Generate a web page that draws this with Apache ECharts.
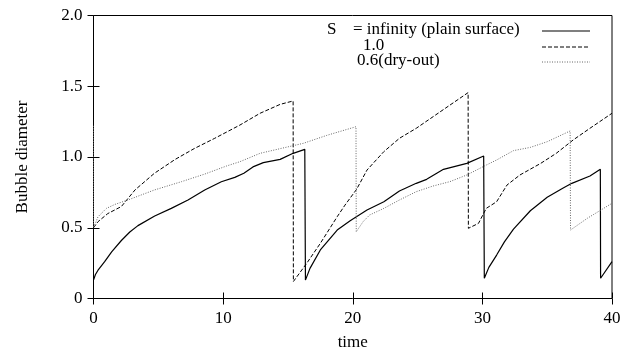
<!DOCTYPE html>
<html>
<head>
<meta charset="utf-8">
<script src="https://cdn.jsdelivr.net/npm/echarts@6/dist/echarts.min.js"></script>
<style>
  html, body { margin: 0; padding: 0; background: #fff; }
  #chart { width: 635px; height: 353px; }
</style>
</head>
<body>
<div id="chart"></div>
<script>
// [time, diameter]
const plainSurface = [
  [0, 0.13], [0.15, 0.17], [0.35, 0.2], [0.86, 0.26], [1.4, 0.33], [2.15, 0.41],
  [2.8, 0.47], [3.43, 0.515], [4.72, 0.583],
  [6.0, 0.637], [7.29, 0.696], [8.58, 0.767], [9.86, 0.825], [10.9, 0.856],
  [11.6, 0.885], [12.3, 0.93], [13.1, 0.96], [14.4, 0.983], [15.4, 1.026],
  [16.3, 1.054], [16.35, 0.13], [16.7, 0.213], [17.5, 0.343], [18.8, 0.484],
  [19.8, 0.55], [21.1, 0.625], [22.4, 0.684], [23.6, 0.76], [24.9, 0.814],
  [25.7, 0.842], [27.0, 0.913], [28.8, 0.955], [30.1, 1.007], [30.15, 0.143],
  [30.5, 0.22], [31.1, 0.307], [31.7, 0.4], [32.4, 0.49], [33.7, 0.62], [35.0, 0.715],
  [36.2, 0.779], [36.9, 0.814], [38.3, 0.866], [39.1, 0.913], [39.12, 0.143],
  [40, 0.26]
];
const sOne = [
  [0, 0.5], [0.35, 0.543], [1.1, 0.6], [2.15, 0.65], [3.2, 0.767], [4.7, 0.885],
  [6.3, 0.983], [7.8, 1.061], [9.35, 1.132], [11.3, 1.226], [12.85, 1.309],
  [14.4, 1.372], [15.4, 1.396], [15.42, 0.12], [16.45, 0.249], [17.5, 0.39],
  [18.8, 0.578], [19.4, 0.66], [20.3, 0.772], [21.1, 0.908], [22.4, 1.038],
  [23.6, 1.132], [24.9, 1.203], [26.2, 1.285], [27.5, 1.367], [28.9, 1.455],
  [28.92, 0.496], [29.7, 0.531], [30.3, 0.637], [31.1, 0.684], [31.9, 0.802],
  [32.9, 0.873], [34.5, 0.955], [35.7, 1.026], [37.0, 1.12], [38.3, 1.203],
  [40, 1.309]
];
const dryOut = [
  [0, 1.22], [0, 0.5], [0.35, 0.578], [1.0, 0.637], [1.65, 0.665], [2.65, 0.696],
  [4.7, 0.767], [6.8, 0.826], [8.6, 0.88], [10.25, 0.936], [11.3, 0.967],
  [12.85, 1.026], [14.4, 1.059], [16.2, 1.097], [18.0, 1.153], [20.25, 1.214],
  [20.27, 0.472], [20.8, 0.543], [21.3, 0.59], [22.4, 0.637], [23.6, 0.696],
  [24.9, 0.755], [26.2, 0.795], [27.5, 0.826], [28.8, 0.873], [30.3, 0.943],
  [31.1, 0.979], [32.4, 1.045], [33.7, 1.068], [35.0, 1.108], [36.77, 1.184],
  [36.8, 0.484], [38.1, 0.567], [40, 0.673]
];
const seriesNames = ["= infinity (plain surface)", "1.0", "0.6(dry-out)"];
const xTicks = { min: 0, max: 40, interval: 10 };
const yTicks = { min: 0, max: 2, interval: 0.5 };

const font = "Liberation Serif";
const chart = echarts.init(document.getElementById("chart"));

const yLabel = (v) => (v === 0 ? "0" : v.toFixed(1));

const baseAxis = {
  axisLine: { show: false },
  axisTick: { show: true, inside: true, length: 6, lineStyle: { color: "#000" } },
  splitLine: { show: false },
  axisLabel: { color: "#000", fontFamily: font, fontSize: 17 }
};

const legendRows = [31, 47, 62];
const lineStyles = [
  { stroke: "#000", lineWidth: 1.2 },
  { stroke: "#000", lineWidth: 1, lineDash: [4, 2] },
  { stroke: "#666", lineWidth: 1, lineDash: [1, 1.5] }
];

chart.setOption({
  animation: false,
  grid: {
    left: 93.5, right: 23, top: 15.5, bottom: 54.5,
    outerBoundsMode: "none",
    show: true, borderColor: "#000", borderWidth: 1
  },
  xAxis: [
    {
      ...baseAxis, type: "value", ...xTicks,
      name: "time", nameLocation: "middle", nameGap: 36,
      nameTextStyle: { color: "#000", fontFamily: font, fontSize: 17 },
      axisLabel: { ...baseAxis.axisLabel, margin: 12 }
    },
    {
      ...baseAxis, type: "value", ...xTicks, position: "top",
      axisLabel: { show: false }
    }
  ],
  yAxis: [
    {
      ...baseAxis, type: "value", ...yTicks,
      name: "Bubble diameter", nameLocation: "middle", nameGap: 62,
      nameTextStyle: { color: "#000", fontFamily: font, fontSize: 17 },
      axisLabel: { ...baseAxis.axisLabel, margin: 11, formatter: yLabel }
    },
    {
      ...baseAxis, type: "value", ...yTicks, position: "right",
      axisLabel: { show: false }
    }
  ],
  series: [
    {
      name: seriesNames[0], type: "line", data: plainSurface, symbol: "none",
      lineStyle: { color: "#000", width: 1.2 }
    },
    {
      name: seriesNames[1], type: "line", data: sOne, symbol: "none",
      lineStyle: { color: "#000", width: 1, type: [4, 2] }
    },
    {
      name: seriesNames[2], type: "line", data: dryOut, symbol: "none",
      lineStyle: { color: "#666", width: 1, type: [1, 1.5] }
    }
  ],
  graphic: [
    {
      type: "text", left: 327, top: legendRows[0] - 10,
      style: { text: "S", font: `17px "${font}"`, fill: "#000" }
    },
    {
      type: "text", left: 353, top: legendRows[0] - 10,
      style: { text: seriesNames[0], font: `17px "${font}"`, fill: "#000" }
    },
    {
      type: "text", left: 363, top: legendRows[1] - 10,
      style: { text: seriesNames[1], font: `17px "${font}"`, fill: "#000" }
    },
    {
      type: "text", left: 357, top: legendRows[2] - 10,
      style: { text: seriesNames[2], font: `17px "${font}"`, fill: "#000" }
    },
    ...legendRows.map((y, i) => ({
      type: "line",
      shape: { x1: 542, y1: y, x2: 590, y2: y },
      style: lineStyles[i]
    }))
  ]
});
</script>
</body>
</html>
